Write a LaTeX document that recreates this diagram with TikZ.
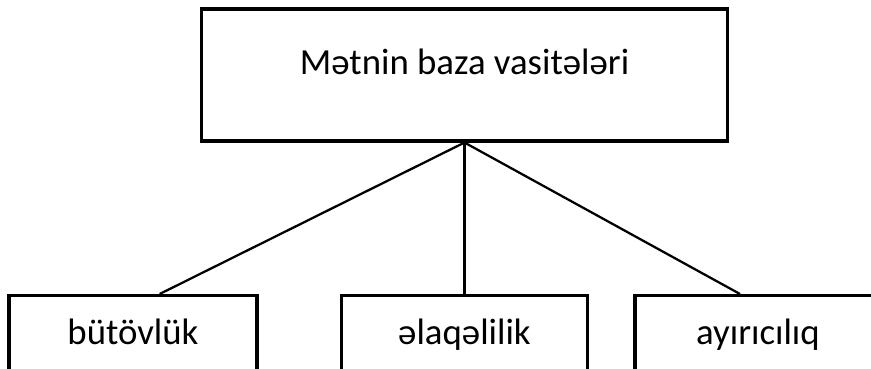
\documentclass[tikz,border=0pt]{standalone}
\usepackage{fontspec}
\setmainfont{Carlito}

\tikzset{
	topbox/.style={draw, line width=2.3pt, inner sep=0pt, minimum width=395pt,
		text height=49pt, text depth=50pt, font=\fontsize{27.6}{32}\selectfont},
	leafbox/.style={draw, line width=2.3pt, inner sep=0pt, anchor=north,
		text height=37pt, text depth=40pt, font=\fontsize{27.6}{32}\selectfont},
	link/.style={line width=1.7pt}
}

\begin{document}
\begin{tikzpicture}[x=0.75pt, y=-0.75pt]
		\useasboundingbox (0,0) rectangle (871,368);
		
		\node[topbox] (top) at (464.5,75) {Mətnin baza vasitələri};
		
		\node[leafbox, minimum width=186pt] (whole) at (133,294) {bütövlük};
		\node[leafbox, minimum width=184pt] (link) at (464.5,294) {əlaqəlilik};
		\node[leafbox, minimum width=184.5pt] (split) at (758,294) {ayırıcılıq};
		
		\draw[link] (top.south) -- ([xshift=20pt]whole.north);
		\draw[link] (top.south) -- (link.north);
		\draw[link] (top.south) -- ([xshift=-13.5pt]split.north);
	\end{tikzpicture}
\end{document}
